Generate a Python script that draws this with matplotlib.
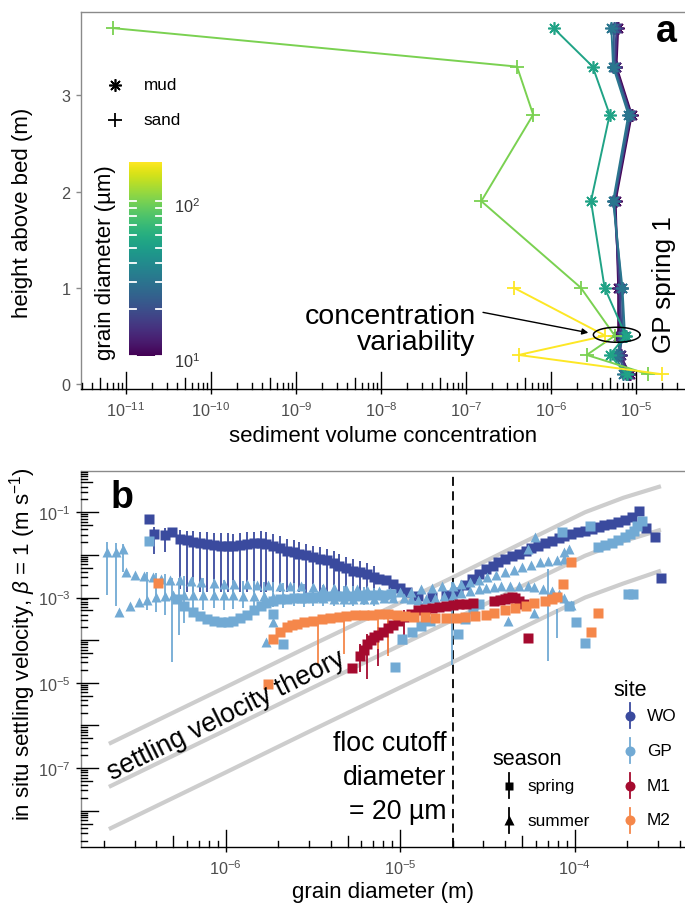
import numpy as np
import matplotlib
matplotlib.use("Agg")
import matplotlib.pyplot as plt
from matplotlib.colors import LogNorm
from matplotlib.lines import Line2D

plt.rcParams['font.family'] = ['Liberation Sans', 'DejaVu Sans']
plt.rcParams['mathtext.fontset'] = 'custom'
plt.rcParams['mathtext.rm'] = 'Liberation Sans'
plt.rcParams['mathtext.it'] = 'Liberation Sans:italic'
plt.rcParams['mathtext.bf'] = 'Liberation Sans:bold'

# ---------------- panel a : concentration profiles (log10 of volume conc.) ----
height_m = [3.7, 3.3, 2.8, 1.9, 1.0, 0.5, 0.3, 0.1]
mud_um = [10, 13, 17, 23, 31, 53]
mud_conc = [
    [-5.21, -5.23, -5.05, -5.24, -5.21, -5.21, -5.19, -5.07],
    [-5.22, -5.24, -5.06, -5.25, -5.20, -5.19, -5.18, -5.08],
    [-5.23, -5.25, -5.07, -5.26, -5.19, -5.17, -5.19, -5.10],
    [-5.26, -5.26, -5.07, -5.26, -5.17, -5.15, -5.21, -5.12],
    [-5.29, -5.27, -5.09, -5.27, -5.16, -5.13, -5.24, -5.15],
    [-5.97, -5.51, -5.31, -5.53, -5.37, -5.12, -5.31, -5.11],
]
sand_um = [100, 178]
sand_conc = [
    [-11.15, -6.40, -6.21, -6.82, -5.65, -5.25, -5.58, -4.86],
    [np.nan, np.nan, np.nan, np.nan, -6.44, -5.36, -6.38, -4.70],
]
a_xticks = [-11, -10, -9, -8, -7, -6, -5]
a_yticks = [0, 1, 2, 3]

# ---------------- panel b : settling velocity vs grain diameter (log10) -------
site_names = ['WO', 'GP', 'M1', 'M2']
site_colors = ['#3A4A9E', '#72AAD4', '#A50A2E', '#F5874A']

wo_spring_d = [
    -6.44, -6.41, -6.35, -6.31, -6.26, -6.22, -6.19, -6.15, -6.11, -6.07,
    -6.03, -5.99, -5.96, -5.92, -5.88, -5.84, -5.80, -5.77, -5.73, -5.69,
    -5.65, -5.61, -5.58, -5.54, -5.50, -5.46, -5.42, -5.38, -5.35, -5.31,
    -5.27, -5.23, -5.19, -5.15, -5.12, -5.08, -5.04, -5.00, -4.96, -4.90,
    -4.82, -4.74, -4.67, -4.63, -4.59, -4.55, -4.51, -4.47, -4.44, -4.40,
    -4.36, -4.32, -4.28, -4.25, -4.21, -4.17, -4.13, -4.09, -4.06, -4.02,
    -3.98, -3.94, -3.90, -3.86, -3.83, -3.79, -3.75, -3.71, -3.67, -3.63,
    -3.59, -3.54, -3.505]
wo_spring_w = [
    -1.17, -1.51, -1.53, -1.47, -1.62, -1.66, -1.69, -1.72, -1.74, -1.76,
    -1.78, -1.78, -1.78, -1.76, -1.74, -1.73, -1.72, -1.75, -1.78, -1.84,
    -1.90, -1.94, -1.98, -2.01, -2.05, -2.09, -2.13, -2.19, -2.25, -2.31,
    -2.37, -2.41, -2.45, -2.51, -2.56, -2.60, -2.68, -2.78, -2.88, -2.96,
    -2.98, -2.94, -2.87, -2.70, -2.56, -2.45, -2.33, -2.25, -2.17, -2.10,
    -2.03, -1.97, -1.90, -1.84, -1.78, -1.72, -1.665, -1.61, -1.55, -1.51,
    -1.47, -1.43, -1.39, -1.35, -1.31, -1.27, -1.23, -1.18, -1.12, -0.96,
    -1.375, -1.59, -2.55]
wo_err_d = [
    -6.41, -6.35, -6.26, -6.22, -6.19, -6.15, -6.11, -6.07, -6.03, -5.99,
    -5.96, -5.92, -5.88, -5.84, -5.80, -5.77, -5.73, -5.69, -5.65, -5.61,
    -5.58, -5.54, -5.50, -5.46, -5.42, -5.38, -5.35, -5.31, -5.27, -5.23,
    -5.19, -5.15]
wo_err_lo = [
    -1.98, -1.93, -2.80, -2.86, -2.87, -2.87, -2.88, -2.87, -2.88, -2.87,
    -2.87, -2.88, -2.86, -2.87, -2.87, -2.88, -2.87, -2.88, -2.88, -2.89,
    -2.88, -2.90, -2.89, -2.90, -2.91, -2.90, -2.92, -2.93, -2.92, -2.94,
    -2.95, -2.96]
wo_err_hi = [
    -1.35, -1.38, -1.42, -1.44, -1.45, -1.46, -1.47, -1.48, -1.49, -1.49,
    -1.50, -1.49, -1.47, -1.46, -1.45, -1.47, -1.50, -1.56, -1.62, -1.66,
    -1.70, -1.74, -1.78, -1.82, -1.86, -1.92, -1.98, -2.04, -2.10, -2.15,
    -2.19, -2.25]

gp_summer_a_d = [
    -6.57, -6.52, -6.47, -6.42, -6.37, -6.32, -6.26, -6.20, -6.14, -6.07,
    -6.01, -5.95, -5.88, -5.82, -5.76, -5.69, -5.63, -5.57, -5.50, -5.44,
    -5.38, -5.31, -5.25, -5.19, -5.12, -5.06, -5.00, -4.94, -4.88, -4.82,
    -4.76, -4.70, -4.65, -4.60, -4.55, -4.50, -4.45, -4.40, -4.35, -4.30,
    -4.25, -4.20, -4.15, -4.10, -4.06]
gp_summer_a_w = [
    -2.41, -2.46, -2.50, -2.53, -2.56, -2.58, -2.60, -2.62, -2.64, -2.66,
    -2.68, -2.68, -2.69, -2.70, -2.71, -2.72, -2.73, -2.74, -2.76, -2.77,
    -2.78, -2.80, -2.81, -2.82, -2.84, -2.86, -2.88, -2.86, -2.81, -2.77,
    -2.74, -2.72, -2.68, -2.64, -2.58, -2.52, -2.46, -2.41, -2.35, -2.29,
    -2.23, -2.17, -2.15, -2.12, -2.09]
gp_summer_b_d = [
    -6.61, -6.55, -6.50, -6.45, -6.40, -6.35, -6.30, -6.24, -6.19, -6.13,
    -6.07, -6.01, -5.96, -5.90, -5.84, -5.78, -5.73, -5.67, -5.61, -5.55,
    -5.50, -5.44, -5.38, -5.32, -5.27, -5.21, -5.15, -5.09, -5.04, -4.98,
    -4.94, -4.90, -4.85, -4.80, -4.75, -4.70, -4.65, -4.60, -4.55, -4.51,
    -4.46, -4.42, -4.37, -4.32, -4.27, -4.23, -4.18, -4.13, -4.09, -4.06,
    -4.02]
gp_summer_b_w = [
    -3.34, -3.19, -3.11, -3.05, -2.99, -2.97, -2.95, -2.94, -2.94, -2.94,
    -2.95, -2.95, -2.95, -2.96, -2.97, -2.97, -2.98, -2.98, -2.99, -3.00,
    -3.01, -3.02, -3.03, -3.03, -3.03, -3.03, -3.03, -3.02, -3.00, -3.02,
    -3.04, -3.05, -3.03, -3.00, -2.97, -2.93, -2.89, -2.85, -2.81, -2.78,
    -2.76, -2.74, -2.73, -2.72, -2.73, -2.75, -2.79, -2.85, -2.92, -3.00,
    -3.17]
gp_summer_x_d = [-6.68, -6.63, -6.59, -4.227, -4.265, -4.03, -4.38, -4.23,
                 -4.99, -5.77, -5.73, -4.06]
gp_summer_x_w = [-1.94, -1.94, -1.86, -1.585, -1.86, -1.86, -3.54, -3.36,
                 -3.97, -4.05, -3.58, -1.94]

gp_spring_u_d = [
    -6.28, -6.24, -6.19, -6.15, -6.11, -6.07, -6.03, -5.99, -5.96, -5.92,
    -5.88, -5.84, -5.80, -5.77, -5.73, -5.69, -5.65, -5.61, -5.57, -5.53,
    -5.49, -5.45, -5.41, -5.37, -5.33, -5.29, -5.25, -5.21, -5.17, -5.13,
    -5.09, -5.05]
gp_spring_u_w = [
    -3.03, -3.19, -3.34, -3.44, -3.50, -3.55, -3.58, -3.57, -3.54, -3.48,
    -3.42, -3.30, -3.19, -3.12, -3.07, -3.04, -3.03, -3.02, -3.00, -2.99,
    -2.98, -2.97, -2.97, -2.97, -2.97, -2.96, -2.96, -2.95, -2.94, -2.93,
    -2.93, -2.92]
gp_spring_x_d = [
    -6.44, -5.73, -5.67, -5.03, -4.99, -4.93, -4.88, -4.83, -4.67, -4.63,
    -4.58, -4.55, -4.074, -3.91, -3.864, -3.826, -3.788, -3.75, -3.71, -3.68,
    -3.66, -3.64, -3.615, -3.695, -3.665, -4.03, -3.99, -3.94]
gp_spring_x_w = [
    -1.665, -3.38, -4.08, -4.63, -3.97, -3.81, -3.66, -3.56, -3.85, -3.50,
    -3.26, -3.15, -1.47, -1.33, -1.82, -1.77, -1.72, -1.65, -1.585, -1.52,
    -1.43, -1.33, -1.197, -2.91, -2.91, -3.19, -3.58, -4.06]
gp_err_d = [-6.68, -6.63, -6.59, -6.45, -6.40, -6.35, -6.31, -6.27, -6.24,
            -6.19, -6.13, -6.07, -6.01, -5.96, -5.90, -5.84, -5.78, -5.73,
            -5.67, -5.61, -5.55, -5.50, -5.44, -5.38, -5.32, -5.27, -5.21,
            -5.15, -4.705, -4.15, -4.10]
gp_err_lo = [-2.95, -3.19, -2.40, -3.30, -3.35, -3.40, -4.51, -3.89, -3.60,
             -3.45, -3.30, -3.25, -3.30, -3.28, -3.25, -3.30, -3.26, -3.22,
             -3.25, -3.20, -3.22, -3.20, -3.21, -3.20, -3.22, -3.20, -3.18,
             -3.20, -4.59, -4.50, -3.95]
gp_err_hi = [-1.70, -1.72, -1.75, -2.40, -2.42, -2.45, -2.55, -2.55, -2.50,
             -2.52, -2.55, -2.57, -2.58, -2.60, -2.61, -2.62, -2.63, -2.64,
             -2.65, -2.66, -2.68, -2.69, -2.70, -2.71, -2.72, -2.74, -2.76,
             -2.78, -2.64, -2.33, -3.26]

m1_spring_d = [
    -5.277, -5.23, -5.21, -5.19, -5.17, -5.15, -5.13, -5.10, -5.07, -5.04,
    -5.01, -4.98, -4.94, -4.90, -4.86, -4.82, -4.78, -4.74, -4.70, -4.66,
    -4.62, -4.58, -4.46, -4.43, -4.40, -4.38, -4.36, -4.34, -4.32, -4.29,
    -4.265]
m1_spring_w = [
    -4.66, -4.36, -4.22, -4.10, -4.00, -3.93, -3.87, -3.80, -3.72, -3.64,
    -3.55, -3.45, -3.38, -3.30, -3.27, -3.24, -3.22, -3.20, -3.18, -3.16,
    -3.14, -3.12, -3.07, -3.05, -3.03, -3.01, -2.99, -3.02, -3.07, -3.15,
    -3.95]
m1_err_d = [-5.23, -5.19, -5.13, -5.07, -4.98, -4.90]
m1_err_lo = [-4.75, -4.91, -4.60, -4.30, -3.90, -3.60]
m1_err_hi = [-4.10, -3.85, -3.70, -3.55, -3.30, -3.20]

m2_spring_d = [
    -6.39, -5.76, -5.73, -5.69, -5.65, -5.62, -5.59, -5.55, -5.50, -5.45,
    -5.40, -5.35, -5.31, -5.26, -5.21, -5.16, -5.12, -5.07, -5.02, -4.97,
    -4.92, -4.86, -4.80, -4.74, -4.68, -4.63, -4.57, -4.51, -4.46, -4.40,
    -4.34, -4.28, -4.23, -4.17, -4.13, -4.10, -4.065, -4.02, -3.906, -3.864]
m2_spring_w = [
    -2.65, -5.02, -3.97, -3.81, -3.69, -3.65, -3.62, -3.58, -3.54, -3.51,
    -3.48, -3.46, -3.44, -3.42, -3.41, -3.40, -3.39, -3.39, -3.40, -3.43,
    -3.45, -3.46, -3.47, -3.48, -3.47, -3.46, -3.44, -3.42, -3.37, -3.30,
    -3.25, -3.19, -3.13, -3.07, -3.03, -2.99, -2.68, -2.17, -3.80, -3.36]
m2_err_d = [-5.47, -5.32, -5.13, -5.07]
m2_err_lo = [-4.59, -4.32, -4.20, -4.36]
m2_err_hi = [-3.45, -3.38, -3.33, -3.32]

theory_d = [-6.67, -6.00, -5.50, -5.00, -4.705, -4.32, -3.94, -3.72, -3.505]
theory_w = [
    [-6.43, -5.10, -4.10, -3.12, -2.54, -1.76, -1.00, -0.66, -0.39],
    [-7.44, -6.11, -5.11, -4.12, -3.54, -2.77, -2.02, -1.68, -1.41],
    [-8.43, -7.10, -6.10, -5.11, -4.53, -3.75, -3.00, -2.67, -2.37],
]
floc_cutoff_m = 2e-5
b_xticks = [-6, -5, -4]
b_yticks = [-7, -5, -3, -1]

# ---------------- layout helpers (pixel positions in a 685 x 904 image) -------
W, H = 685, 904
fig = plt.figure(figsize=(W / 100, H / 100), dpi=100)


def frame(l, t, r, b):
    return [l / W, 1 - b / H, (r - l) / W, (b - t) / H]


def ftext(x, y, s, **kw):
    fig.text(x / W, 1 - y / H, s, **kw)


def fmark(x, y, **kw):
    fig.add_artist(Line2D([x / W], [1 - y / H], **kw))


def fline(x0, y0, x1, y1, **kw):
    fig.add_artist(Line2D([x0 / W, x1 / W], [1 - y0 / H, 1 - y1 / H], **kw))


def log_ticks(ax, which, lo, hi, span_px):
    # ggplot-style annotation_logticks drawn inside the panel
    for e in range(int(np.floor(lo)), int(np.ceil(hi)) + 1):
        for k in range(1, 10):
            v = k * 10.0 ** e
            if not (lo <= np.log10(v) <= hi):
                continue
            L = (17 if k == 1 else 11 if k == 5 else 6) / span_px
            if which == 'x':
                ax.plot([v, v], [0, L], transform=ax.get_xaxis_transform(),
                        color='black', lw=1.0, clip_on=False, zorder=6)
            else:
                ax.plot([0, L], [v, v], transform=ax.get_yaxis_transform(),
                        color='black', lw=1.0, clip_on=False, zorder=6)


def style_frame(ax):
    ax.spines['right'].set_visible(False)
    for s in ['top', 'left']:
        ax.spines[s].set_color('#8a8a8a')
        ax.spines[s].set_linewidth(1.0)
    ax.spines['bottom'].set_color('black')
    ax.spines['bottom'].set_linewidth(1.0)


TICK_GRAY = '#4d4d4d'

# ============================ panel a =========================================
axa = fig.add_axes(frame(81, 13, 685, 389.5))
cmap = plt.get_cmap('viridis')
norm = LogNorm(vmin=10, vmax=178)

for size, conc in zip(mud_um, mud_conc):
    axa.plot(10.0 ** np.array(conc), height_m, color=cmap(norm(size)), lw=1.4,
             marker=(8, 2, 0), ms=9, mew=1.2, zorder=3)
for size, conc in zip(sand_um, sand_conc):
    axa.plot(10.0 ** np.array(conc), height_m, color=cmap(norm(size)), lw=1.4,
             marker='+', ms=10.5, mew=1.3, zorder=3)

# concentration variability ellipse
t = np.linspace(0, 2 * np.pi, 120)
axa.plot(10.0 ** (-5.227 + 0.275 * np.cos(t)), 0.51 + 0.078 * np.sin(t),
         color='black', lw=1.1, zorder=4)
axa.annotate('', xy=(10 ** -5.561, 0.531), xytext=(10 ** -6.80, 0.743),
             arrowprops=dict(arrowstyle='-|>', color='black', lw=1.0,
                             mutation_scale=9, shrinkA=0, shrinkB=0), zorder=4)

axa.set_xscale('log')
axa.set_xticks([10.0 ** e for e in a_xticks])
axa.set_xticklabels(['$10^{%d}$' % e for e in a_xticks])
axa.xaxis.set_minor_locator(matplotlib.ticker.NullLocator())
axa.set_yticks(a_yticks)
axa.set_yticklabels([str(v) for v in a_yticks])
axa.tick_params(axis='x', direction='out', length=3.6, width=1.0, color='black',
                labelcolor=TICK_GRAY, labelsize=11.7, pad=5)
axa.tick_params(axis='y', direction='out', length=3.6, width=1.0, color='#8a8a8a',
                labelcolor=TICK_GRAY, labelsize=11.7, pad=4)
log_ticks(axa, 'x', -11.529, -4.424, 376.5)
axa.set_xlim(10 ** -11.529, 10 ** -4.424)
axa.set_ylim(-0.049, 3.868)
style_frame(axa)

ftext(475.5, 330, 'concentration\nvariability', fontsize=20.5, ha='right',
      va='center', multialignment='right', linespacing=0.97)
ftext(664.5, 285, 'GP spring 1', fontsize=18.7, rotation=90, ha='center', va='center')
ftext(656, 41.7, 'a', fontsize=27, fontweight='bold', ha='left', va='baseline')
ftext(23, 212.5, 'height above bed (m)', fontsize=16, rotation=90, ha='center', va='center')
ftext(383, 437, 'sediment volume concentration', fontsize=16, ha='center', va='center')

# mud / sand legend
fmark(114.7, 86, marker=(8, 2, 0), ms=9, mew=1.2, color='black', ls='none')
fmark(114.7, 120.7, marker='+', ms=10.5, mew=1.3, color='black', ls='none')
ftext(143.7, 86, 'mud', fontsize=12.3, va='center')
ftext(143.7, 120.7, 'sand', fontsize=12.3, va='center')

# colour bar for grain diameter
top_val = np.log10(178)
cax = fig.add_axes(frame(129.4, 163, 162.2, 357))
cax.imshow(np.linspace(1, top_val, 256)[:, None], cmap='viridis', vmin=1, vmax=top_val,
           aspect='auto', origin='lower', extent=[0, 1, 1, top_val])
for v in range(10, 101, 10):
    yv = np.log10(v)
    cax.plot([0, 0.2], [yv, yv], color='white', lw=1.3)
    cax.plot([0.8, 1], [yv, yv], color='white', lw=1.3)
cax.set_xlim(0, 1)
cax.set_ylim(1, top_val)
cax.axis('off')
ftext(174.5, 207, '$10^{2}$', fontsize=11.7, color='#333333', va='center')
ftext(174.5, 362, '$10^{1}$', fontsize=11.7, color='#333333', va='center')
ftext(105, 263, 'grain diameter (µm)', fontsize=16, rotation=90, ha='center', va='center')

# ============================ panel b =========================================
axb = fig.add_axes(frame(81, 471.7, 685, 847.5))
axb.set_xscale('log')
axb.set_yscale('log')

for tw in theory_w:
    axb.plot(10.0 ** np.array(theory_d), 10.0 ** np.array(tw), color='#cdcdcd',
             lw=3.0, solid_capstyle='butt', zorder=1)
axb.axvline(floc_cutoff_m, color='black', lw=1.3, ls=(0, (5, 3)), zorder=2)


def errs(d, lo, hi, color):
    axb.vlines(10.0 ** np.array(d), 10.0 ** np.array(lo), 10.0 ** np.array(hi),
               color=color, lw=1.3, zorder=3)


def pts(d, w, color, marker):
    ms = 6.8 if marker == 's' else 7.8
    axb.plot(10.0 ** np.array(d), 10.0 ** np.array(w), ls='none', marker=marker,
             ms=ms, color=color, mec='none', zorder=4)


c_wo, c_gp, c_m1, c_m2 = site_colors
errs(wo_err_d, wo_err_lo, wo_err_hi, c_wo)
pts(wo_spring_d, wo_spring_w, c_wo, 's')
errs(gp_err_d, gp_err_lo, gp_err_hi, c_gp)
pts(gp_spring_u_d, gp_spring_u_w, c_gp, 's')
pts(gp_spring_x_d, gp_spring_x_w, c_gp, 's')
pts(gp_summer_b_d, gp_summer_b_w, c_gp, '^')
pts(gp_summer_a_d, gp_summer_a_w, c_gp, '^')
pts(gp_summer_x_d, gp_summer_x_w, c_gp, '^')
errs(m1_err_d, m1_err_lo, m1_err_hi, c_m1)
pts(m1_spring_d, m1_spring_w, c_m1, 's')
errs(m2_err_d, m2_err_lo, m2_err_hi, c_m2)
pts(m2_spring_d, m2_spring_w, c_m2, 's')

axb.text(10 ** -5.979, 10 ** -5.89, 'settling velocity theory', fontsize=19.2,
         rotation=26.5, rotation_mode='anchor', ha='center', va='baseline', zorder=5)

axb.set_xticks([10.0 ** e for e in b_xticks])
axb.set_xticklabels(['$10^{%d}$' % e for e in b_xticks])
axb.set_yticks([10.0 ** e for e in b_yticks])
axb.set_yticklabels(['$10^{%d}$' % e for e in b_yticks])
axb.xaxis.set_minor_locator(matplotlib.ticker.NullLocator())
axb.yaxis.set_minor_locator(matplotlib.ticker.NullLocator())
axb.tick_params(axis='both', direction='out', length=3.6, width=1.0, color='black',
                labelcolor=TICK_GRAY, labelsize=11.7)
axb.tick_params(axis='x', pad=5)
axb.tick_params(axis='y', pad=4)
log_ticks(axb, 'x', -6.830, -3.367, 375.8)
log_ticks(axb, 'y', -8.838, -0.026, 604)
axb.set_xlim(10 ** -6.830, 10 ** -3.367)
axb.set_ylim(10 ** -8.838, 10 ** -0.026)
style_frame(axb)

ftext(446.5, 778, 'floc cutoff\ndiameter\n= 20 µm', fontsize=19.2, ha='right',
      va='center', multialignment='right', linespacing=1.4)
ftext(110.5, 508, 'b', fontsize=27, fontweight='bold', ha='left', va='baseline')
ftext(23, 644, 'in situ settling velocity, $\\beta$ = 1 (m s$^{-1}$)', fontsize=16,
      rotation=90, ha='center', va='center')
ftext(383, 893, 'grain diameter (m)', fontsize=16, ha='center', va='center')

# site legend
ftext(613.6, 690, 'site', fontsize=15.6, va='center')
for yy, col, lab in zip([716.7, 751.7, 786.7, 821.0], site_colors, site_names):
    fline(629.8, yy - 12.5, 629.8, yy + 12.5, color=col, lw=1.3)
    fmark(629.8, yy, marker='o', ms=7.2, color=col, mec='none', ls='none')
    ftext(647.1, yy, lab, fontsize=12.4, va='center')

# season legend
ftext(492, 760, 'season', fontsize=15.6, va='center')
for yy, mk, lab in zip([786.7, 821.3], ['s', '^'], ['spring', 'summer']):
    fline(509, yy - 12.5, 509, yy + 12.5, color='black', lw=1.3)
    fmark(509, yy, marker=mk, ms=6.0 if mk == 's' else 6.8, color='black',
          mec='none', ls='none')
    ftext(527.5, yy, lab, fontsize=12.4, va='center')

fig.savefig('out.png', dpi=100)
